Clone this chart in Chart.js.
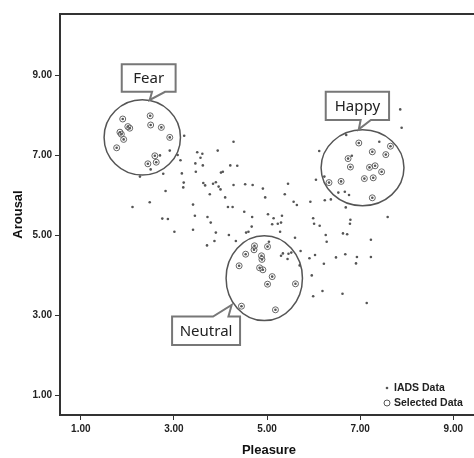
<!DOCTYPE html>
<html><head><meta charset="utf-8">
<script src="https://cdn.jsdelivr.net/npm/chart.js@4.4.1/dist/chart.umd.min.js"></script>
<style>html,body{margin:0;padding:0;overflow:hidden;background:#fff;width:474px;height:458px}canvas{display:block}</style>
</head><body><canvas id="c" width="482" height="458"></canvas>
<script>
// ---- Data (Pleasure = x, Arousal = y) ----
const xTicks = [1, 3, 5, 7, 9];
const yTicks = [1, 3, 5, 7, 9];

const fearPleasure = [1.90,2.01,2.05,1.84,1.87,1.92,1.77,2.49,2.50,2.73,2.91,2.59,2.62,2.44];
const fearArousal  = [7.90,7.71,7.67,7.57,7.52,7.39,7.18,7.98,7.75,7.69,7.44,6.98,6.82,6.78];

const happyPleasure = [6.97,7.26,7.55,7.65,6.74,6.79,6.33,6.59,7.20,7.32,7.46,7.09,7.28,7.26];
const happyArousal  = [7.30,7.08,7.01,7.22,6.91,6.70,6.31,6.34,6.69,6.73,6.58,6.41,6.43,5.93];

const neutralPleasure = [4.73,4.72,5.01,4.54,4.88,4.89,4.40,4.84,4.91,5.11,5.01,5.61,4.45,5.18];
const neutralArousal  = [4.73,4.63,4.71,4.52,4.48,4.39,4.23,4.18,4.13,3.96,3.77,3.78,3.22,3.13];

const otherPleasure = [2.70,3.22,2.91,2.50,2.27,2.77,3.08,3.14,3.17,3.21,3.20,2.82,2.11,2.48,2.75,2.87,
 3.50,3.61,3.57,3.46,3.62,3.47,3.94,4.28,4.21,4.36,3.63,3.67,3.90,3.84,4.01,4.05,3.96,4.00,3.77,4.28,
 4.10,4.16,4.26,3.41,3.72,3.79,3.41,3.45,3.01,3.90,3.87,3.71,4.18,4.33,4.53,4.69,4.91,4.96,5.45,5.38,
 5.57,5.64,5.93,6.12,6.05,6.24,6.37,7.41,7.86,7.89,6.82,6.70,6.23,6.53,6.67,6.76,6.69,4.51,4.68,4.67,
 5.02,5.14,5.11,5.32,5.30,5.23,5.99,6.01,6.13,6.79,6.78,7.59,4.55,4.60,5.28,5.60,5.04,5.34,5.30,5.46,
 5.52,5.44,5.72,5.70,5.91,6.03,6.26,6.28,6.22,5.96,5.99,6.19,6.63,6.72,6.48,6.68,6.93,6.91,7.23,7.23,
 6.62,7.14];
const otherArousal = [6.99,7.48,7.11,6.64,6.46,6.53,7.00,6.87,6.54,6.31,6.19,6.10,5.70,5.82,5.41,5.40,
 7.07,7.03,6.93,6.79,6.74,6.58,7.11,7.33,6.74,6.73,6.30,6.24,6.32,6.28,6.56,6.58,6.21,6.14,6.02,6.25,
 5.94,5.70,5.70,5.76,5.45,5.31,5.13,5.48,5.08,5.06,4.85,4.74,5.00,4.85,6.27,6.25,6.16,5.94,6.28,6.02,
 5.83,5.75,5.83,7.10,6.38,5.87,5.89,7.33,8.14,7.68,6.98,7.50,6.46,6.06,6.08,6.00,5.69,5.58,5.45,5.21,
 5.52,5.42,5.27,5.48,5.31,5.28,5.42,5.28,5.23,5.38,5.28,5.45,5.06,5.08,5.08,4.93,4.83,4.54,4.48,4.53,
 4.56,4.40,4.60,4.24,4.42,4.50,5.00,4.83,4.28,3.99,3.47,3.60,5.04,5.02,4.44,4.52,4.45,4.29,4.88,4.45,
 3.53,3.30];

const selPleasure = fearPleasure.concat(happyPleasure, neutralPleasure);
const selArousal  = fearArousal.concat(happyArousal, neutralArousal);
const allPleasure = otherPleasure.concat(selPleasure);
const allArousal  = otherArousal.concat(selArousal);
const toPts = (xs, ys) => xs.map((x, i) => ({x, y: ys[i]}));

// ---- Annotation geometry (data units) ----
const groupEllipses = [
  {cx: 2.32, cy: 7.44, rx: 0.82, ry: 0.94},
  {cx: 7.05, cy: 6.68, rx: 0.89, ry: 0.95},
  {cx: 4.94, cy: 3.92, rx: 0.82, ry: 1.06}
];
const callouts = [
  {text: 'Fear',    x1: 1.879, x2: 3.036, yTop: 9.27, yBot: 8.58, side: 'bottom', b1: 2.53, b2: 2.81, ax: 2.48, ay: 8.375},
  {text: 'Happy',   x1: 6.26,  x2: 7.62,  yTop: 8.58, yBot: 7.875, side: 'bottom', b1: 7.01, b2: 7.23, ax: 6.97, ay: 7.64},
  {text: 'Neutral', x1: 2.96,  x2: 4.42,  yTop: 2.96, yBot: 2.25, side: 'top', b1: 3.84, b2: 4.17, ax: 4.24, ay: 3.25}
];

Chart.defaults.font.family = "'Liberation Sans', Arial, sans-serif";
Chart.defaults.color = '#222';

const annotationPlugin = {
  id: 'groups',
  afterDatasetsDraw(chart) {
    const ctx = chart.ctx, xs = chart.scales.x, ys = chart.scales.y;
    const px = v => xs.getPixelForValue(v), py = v => ys.getPixelForValue(v);
    ctx.save();
    ctx.strokeStyle = '#555';
    ctx.lineWidth = 1.5;
    groupEllipses.forEach(e => {
      ctx.beginPath();
      ctx.ellipse(px(e.cx), py(e.cy), Math.abs(px(e.cx + e.rx) - px(e.cx)), Math.abs(py(e.cy + e.ry) - py(e.cy)), 0, 0, Math.PI * 2);
      ctx.stroke();
    });
    callouts.forEach(c => {
      const L = px(c.x1), R = px(c.x2), T = py(c.yTop), B = py(c.yBot);
      ctx.beginPath();
      if (c.side === 'bottom') {
        ctx.moveTo(L, T); ctx.lineTo(R, T); ctx.lineTo(R, B);
        ctx.lineTo(px(c.b2), B); ctx.lineTo(px(c.ax), py(c.ay)); ctx.lineTo(px(c.b1), B);
        ctx.lineTo(L, B);
      } else {
        ctx.moveTo(L, T); ctx.lineTo(px(c.b1), T); ctx.lineTo(px(c.ax), py(c.ay)); ctx.lineTo(px(c.b2), T);
        ctx.lineTo(R, T); ctx.lineTo(R, B); ctx.lineTo(L, B);
      }
      ctx.closePath();
      ctx.fillStyle = '#fff';
      ctx.fill();
      ctx.strokeStyle = '#777';
      ctx.lineWidth = 2;
      ctx.lineJoin = 'miter';
      ctx.stroke();
      ctx.fillStyle = '#222';
      ctx.font = "15px 'Noto Sans', sans-serif";
      ctx.textAlign = 'center';
      ctx.textBaseline = 'middle';
      ctx.fillText(c.text, (L + R) / 2, (T + B) / 2 + 1);
    });
    ctx.restore();
  }
};

const legendPlugin = {
  id: 'innerLegend',
  afterDraw(chart) {
    const ctx = chart.ctx, a = chart.chartArea;
    const items = [
      {label: chart.data.datasets[0].label, kind: 'dot', dy: -27},
      {label: chart.data.datasets[1].label, kind: 'ring', dy: -12}
    ];
    ctx.save();
    ctx.font = "bold 10.5px 'Liberation Sans', Arial, sans-serif";
    ctx.textBaseline = 'middle';
    ctx.textAlign = 'left';
    items.forEach(it => {
      const y = a.bottom + it.dy, mx = a.right - 91;
      ctx.beginPath();
      if (it.kind === 'dot') {
        ctx.arc(mx, y, 1.3, 0, Math.PI * 2);
        ctx.fillStyle = '#555'; ctx.fill();
      } else {
        ctx.arc(mx, y, 3, 0, Math.PI * 2);
        ctx.strokeStyle = '#555'; ctx.lineWidth = 1; ctx.stroke();
      }
      ctx.fillStyle = '#222';
      ctx.fillText(it.label, mx + 7, y);
    });
    ctx.restore();
  }
};

const tickFont = {size: 10, weight: 'bold'};
new Chart(document.getElementById('c'), {
  type: 'scatter',
  data: {
    datasets: [
      {label: 'IADS Data', data: toPts(allPleasure, allArousal), pointRadius: 1.3, pointHoverRadius: 1.3,
       backgroundColor: '#555', borderWidth: 0, order: 2},
      {label: 'Selected Data', data: toPts(selPleasure, selArousal), pointRadius: 3, pointHoverRadius: 3,
       backgroundColor: 'rgba(0,0,0,0)', borderColor: '#666', borderWidth: 1, order: 1}
    ]
  },
  options: {
    responsive: false,
    animation: false,
    events: [],
    layout: {padding: {top: 14, left: 0, right: 0, bottom: 0}},
    plugins: {legend: {display: false}, tooltip: {enabled: false}},
    scales: {
      x: {
        type: 'linear', position: 'bottom', min: 0.553, max: 9.53,
        afterBuildTicks: s => { s.ticks = xTicks.map(v => ({value: v})); },
        afterFit: s => { s.height = 43; },
        ticks: {font: tickFont, color: '#222', padding: 3, maxRotation: 0, callback: v => Number(v).toFixed(2)},
        grid: {display: true, drawOnChartArea: false, drawTicks: true, tickLength: 5, color: '#333'},
        border: {display: true, color: '#333', width: 2},
        title: {display: true, text: 'Pleasure', font: {size: 13, weight: 'bold'}, color: '#111', padding: {top: 0, bottom: 0}}
      },
      xTop: {
        type: 'linear', position: 'top', min: 0.553, max: 9.53,
        afterFit: s => { s.height = 0; },
        ticks: {display: false},
        grid: {display: false},
        border: {display: true, color: '#333', width: 2}
      },
      y: {
        type: 'linear', position: 'left', min: 0.5, max: 10.525,
        afterBuildTicks: s => { s.ticks = yTicks.map(v => ({value: v})); },
        afterFit: s => { s.width = 60; },
        ticks: {font: tickFont, color: '#222', padding: 3, callback: v => Number(v).toFixed(2)},
        grid: {display: true, drawOnChartArea: false, drawTicks: true, tickLength: 5, color: '#333'},
        border: {display: true, color: '#333', width: 2},
        title: {display: true, text: 'Arousal', font: {size: 13, weight: 'bold'}, color: '#111', padding: {top: 11, bottom: 0}}
      }
    }
  },
  plugins: [annotationPlugin, legendPlugin]
});
</script></body></html>
